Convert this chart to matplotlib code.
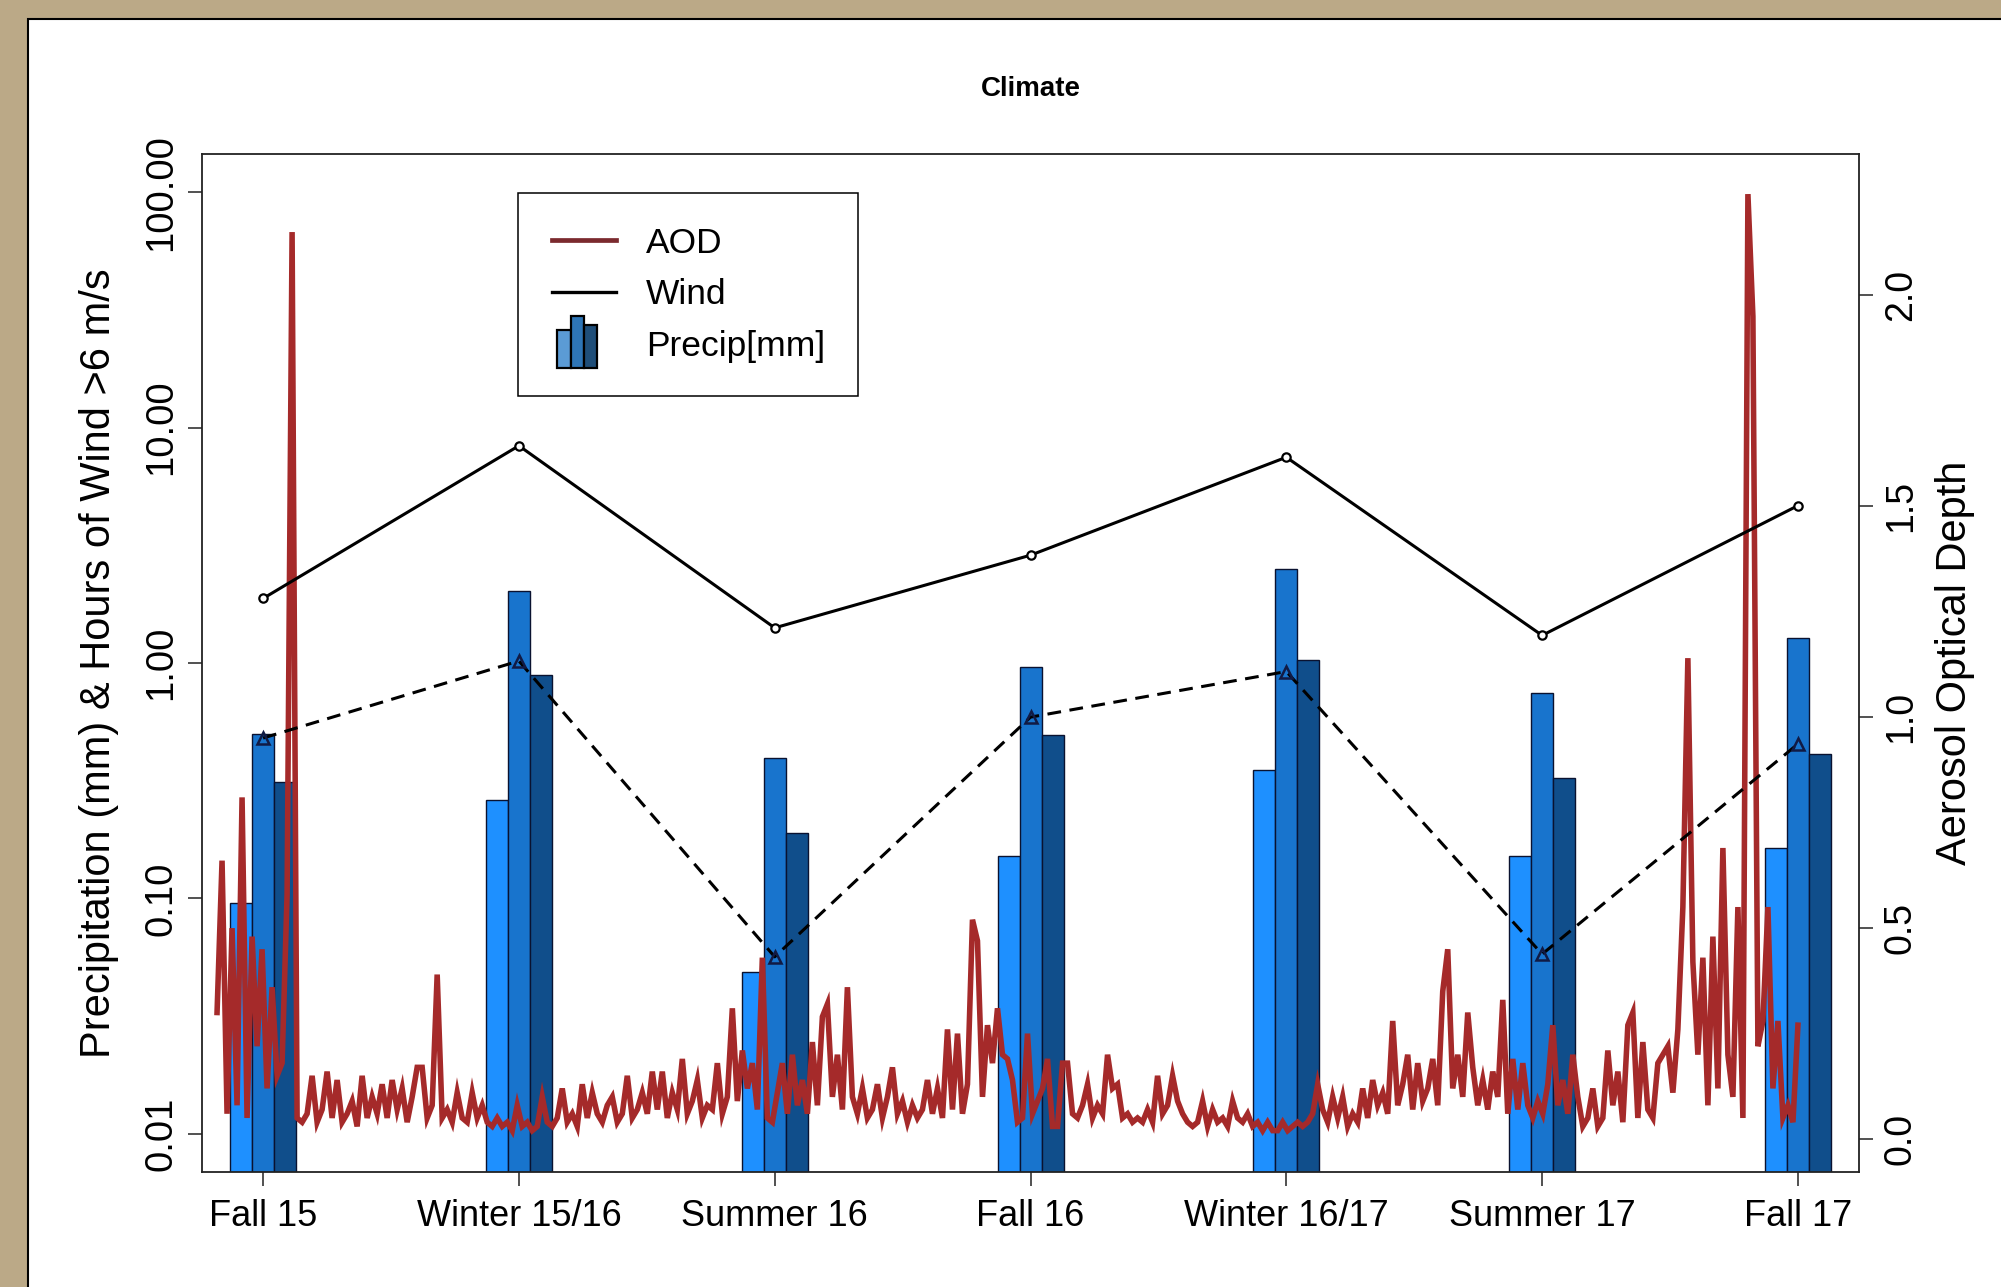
import numpy as np
import matplotlib
matplotlib.use("Agg")
import matplotlib.pyplot as plt
from matplotlib.lines import Line2D
from matplotlib.patches import Rectangle
from matplotlib.legend_handler import HandlerBase
from matplotlib.ticker import FixedLocator, NullLocator

plt.rcParams['font.family'] = ['Liberation Sans', 'DejaVu Sans']

# ---- data ----
seasons = ["Fall 15", "Winter 15/16", "Summer 16", "Fall 16",
           "Winter 16/17", "Summer 17", "Fall 17"]

# three precipitation bars per season (mm, log axis)
precip_1 = [0.095, 0.262, 0.0475, 0.151, 0.349, 0.150, 0.163]
precip_2 = [0.50, 2.02, 0.395, 0.957, 2.50, 0.746, 1.28]
precip_3 = [0.312, 0.889, 0.189, 0.494, 1.03, 0.324, 0.41]

# hours of wind > 6 m/s (solid, circles) and second wind series (dashed, triangles)
wind_hours = [1.88, 8.37, 1.41, 2.87, 7.48, 1.31, 4.66]
wind_dashed = [0.48, 1.02, 0.0565, 0.589, 0.92, 0.058, 0.453]

# aerosol optical depth trace, evenly spaced along the season axis
aod_span = (-0.18, 6.0)
aod = [
    0.30, 0.66, 0.06, 0.50, 0.08, 0.81, 0.05, 0.48, 0.22, 0.45,
    0.12, 0.36, 0.15, 0.18, 0.58, 2.15, 0.05, 0.04, 0.06, 0.15,
    0.04, 0.07, 0.16, 0.05, 0.14, 0.04, 0.06, 0.09, 0.03, 0.15,
    0.05, 0.10, 0.06, 0.13, 0.05, 0.14, 0.07, 0.12, 0.04, 0.10,
    0.17, 0.17, 0.05, 0.08, 0.39, 0.05, 0.07, 0.04, 0.11, 0.05,
    0.04, 0.11, 0.05, 0.08, 0.04, 0.03, 0.05, 0.03, 0.04, 0.02,
    0.08, 0.03, 0.04, 0.02, 0.03, 0.10, 0.04, 0.03, 0.05, 0.12,
    0.04, 0.06, 0.03, 0.13, 0.05, 0.11, 0.06, 0.04, 0.08, 0.10,
    0.04, 0.06, 0.15, 0.05, 0.07, 0.11, 0.06, 0.16, 0.07, 0.16,
    0.05, 0.11, 0.07, 0.19, 0.06, 0.09, 0.14, 0.05, 0.08, 0.07,
    0.18, 0.06, 0.10, 0.31, 0.09, 0.21, 0.12, 0.18, 0.07, 0.43,
    0.05, 0.04, 0.11, 0.18, 0.06, 0.20, 0.08, 0.14, 0.06, 0.23,
    0.08, 0.29, 0.32, 0.10, 0.20, 0.07, 0.36, 0.10, 0.06, 0.12,
    0.05, 0.07, 0.13, 0.05, 0.10, 0.17, 0.06, 0.09, 0.04, 0.08,
    0.05, 0.07, 0.14, 0.06, 0.12, 0.05, 0.26, 0.07, 0.25, 0.06,
    0.13, 0.52, 0.47, 0.10, 0.27, 0.18, 0.31, 0.20, 0.19, 0.14,
    0.04, 0.05, 0.25, 0.06, 0.09, 0.12, 0.19, 0.03, 0.03, 0.18,
    0.18, 0.06, 0.05, 0.08, 0.13, 0.05, 0.08, 0.06, 0.20, 0.12,
    0.13, 0.05, 0.06, 0.04, 0.05, 0.04, 0.07, 0.04, 0.15, 0.06,
    0.08, 0.15, 0.09, 0.06, 0.04, 0.03, 0.04, 0.09, 0.03, 0.07,
    0.04, 0.05, 0.03, 0.09, 0.05, 0.04, 0.06, 0.03, 0.04, 0.02,
    0.04, 0.02, 0.02, 0.04, 0.02, 0.03, 0.04, 0.03, 0.04, 0.06,
    0.13, 0.07, 0.04, 0.10, 0.05, 0.10, 0.03, 0.06, 0.04, 0.12,
    0.05, 0.14, 0.08, 0.11, 0.06, 0.28, 0.08, 0.13, 0.20, 0.07,
    0.18, 0.09, 0.12, 0.19, 0.08, 0.35, 0.45, 0.12, 0.20, 0.10,
    0.30, 0.17, 0.08, 0.14, 0.07, 0.16, 0.10, 0.33, 0.06, 0.19,
    0.07, 0.18, 0.08, 0.05, 0.09, 0.06, 0.13, 0.27, 0.08, 0.14,
    0.06, 0.20, 0.10, 0.03, 0.05, 0.12, 0.03, 0.05, 0.21, 0.08,
    0.16, 0.04, 0.27, 0.30, 0.05, 0.23, 0.07, 0.05, 0.18, 0.20,
    0.22, 0.11, 0.26, 0.55, 1.14, 0.42, 0.20, 0.43, 0.08, 0.48,
    0.12, 0.69, 0.20, 0.10, 0.55, 0.05, 2.24, 1.95, 0.22, 0.28,
    0.55, 0.12, 0.28, 0.05, 0.08, 0.04, 0.27,
]

bar_colors = ["#1E90FF", "#1874CD", "#104E8B"]
aod_color = "#A52A2A"
tick_fs = 26


class BarIconHandler(HandlerBase):
    """Small three-bar icon for the precipitation legend entry."""
    def create_artists(self, legend, orig_handle, xdescent, ydescent,
                       width, height, fontsize, trans):
        icon_h = 2.1 * height
        bottom = -ydescent + height / 2 - icon_h / 2 + 1
        bw = 9.5
        x0 = -xdescent + 4
        fracs = [0.72, 1.0, 0.82]
        cols = ["#5B9BD5", "#2E75B6", "#1F4E79"]
        arts = []
        for k, (f, c) in enumerate(zip(fracs, cols)):
            r = Rectangle((x0 + k * bw, bottom), bw, icon_h * f,
                          facecolor=c, edgecolor="black", lw=1.6,
                          transform=trans)
            arts.append(r)
        return arts


fig = plt.figure(figsize=(20.01, 12.87), dpi=100)
fig.patch.set_facecolor("#BBA987")
fig.add_artist(Rectangle((28 / 2001, -0.01), 1.0, 1.01 - 19 / 1287,
                         transform=fig.transFigure, facecolor="white",
                         edgecolor="black", lw=1.5, zorder=-1))

ax = fig.add_axes([0.1008, 0.0897, 0.8284, 0.7903])
x = np.arange(len(seasons))
w = 0.086

# precipitation bars
for k, (vals, col) in enumerate(zip([precip_1, precip_2, precip_3], bar_colors)):
    ax.bar(x + (k - 1) * w, vals, width=w, bottom=1e-3, color=col,
           edgecolor="#0a1230", linewidth=1.0, zorder=2)

ax.set_yscale("log")
ax.set_ylim(10 ** -2.16, 10 ** 2.16)
ax.set_xlim(-0.24, 6.24)
ax.yaxis.set_major_locator(FixedLocator([0.01, 0.1, 1, 10, 100]))
ax.yaxis.set_minor_locator(NullLocator())
ax.set_yticklabels(["0.01", "0.10", "1.00", "10.00", "100.00"],
                   rotation=90, va="center", fontsize=27.5)
ax.set_xticks(x)
ax.set_xticklabels(seasons, fontsize=tick_fs)
ax.tick_params(axis="both", direction="out", length=10, width=1.1,
               color="#222222")
ax.tick_params(axis="x", pad=10)
ax.tick_params(axis="y", pad=6)
for s in ax.spines.values():
    s.set_color("#222222")
    s.set_linewidth(1.3)

# AOD on the right axis
ax2 = ax.twinx()
aod_x = np.linspace(aod_span[0], aod_span[1], len(aod))
ax2.plot(aod_x, aod, color=aod_color, lw=4.0, solid_joinstyle="miter",
         zorder=3)
ax2.set_ylim(-0.077, 2.334)
ax2.set_yticks([0.0, 0.5, 1.0, 1.5, 2.0])
ax2.set_yticklabels(["0.0", "0.5", "1.0", "1.5", "2.0"], rotation=90,
                    va="center", fontsize=27)
ax2.tick_params(axis="y", direction="out", length=10, width=1.1,
                color="#222222", pad=7)
for s in ax2.spines.values():
    s.set_visible(False)

# wind lines on top
ax3 = ax.twinx()
ax3.set_yscale("log")
ax3.set_ylim(ax.get_ylim())
ax3.set_xlim(ax.get_xlim())
ax3.plot(x, wind_hours, color="black", lw=2.2, marker="o", ms=6,
         mfc="white", mec="black", mew=1.6)
ax3.plot(x, wind_dashed, color="black", lw=2.2, dashes=(4.5, 2.8),
         marker="^", ms=8, mfc="none", mec="#111a44", mew=1.8)
ax3.axis("off")

handles = [Line2D([], [], color="#7B2A2E", lw=3.4),
           Line2D([], [], color="black", lw=2.4),
           object()]
leg = ax3.legend(handles, ["AOD", "Wind", "Precip[mm]"],
                 handler_map={object: BarIconHandler()},
                 loc="upper left", bbox_to_anchor=(0.1909, 0.962),
                 borderaxespad=0, fontsize=25.5, frameon=True,
                 fancybox=False, framealpha=1, edgecolor="black",
                 handlelength=1.8, handletextpad=0.85, borderpad=0.95,
                 labelspacing=0.52)
leg.get_frame().set_linewidth(1.1)

fig.text(0.515, 0.931, "Climate", ha="center", va="center",
         fontsize=20, fontweight="bold")
fig.text(0.0497, 0.485, "Precipitation (mm) & Hours of Wind >6 m/s",
         rotation=90, ha="center", va="center", fontsize=30)
fig.text(0.977, 0.485, "Aerosol Optical Depth", rotation=90,
         ha="center", va="center", fontsize=30)

fig.savefig("out.png", dpi=100, facecolor=fig.get_facecolor())
